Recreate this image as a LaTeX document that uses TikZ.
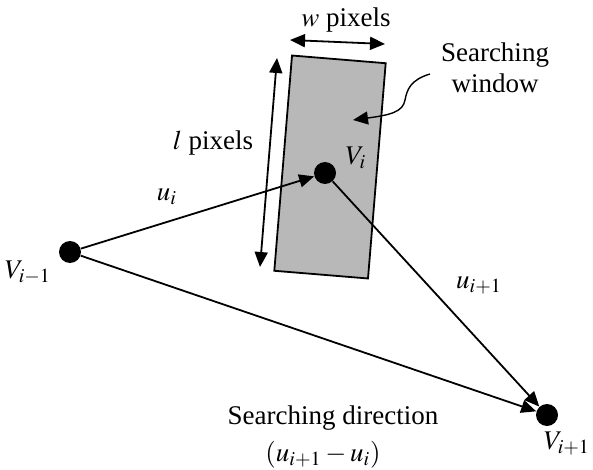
\documentclass[tikz,border=0pt]{standalone}
\usepackage{mathptmx}
\usepackage{fontspec}
\setmainfont{Liberation Serif}
\usetikzlibrary{arrows.meta}

\begin{document}
\begin{tikzpicture}[x=0.5pt,y=-0.5pt,
    dot/.style={circle,fill=black,inner sep=0pt,minimum size=11pt},
    conn/.style={line width=0.9pt,-{Triangle[length=7.5pt,width=6.5pt]}},
    dimarrow/.style={line width=0.9pt,{Triangle[length=7.5pt,width=6.5pt]}-{Triangle[length=7.5pt,width=6.5pt]}},
    lbl/.style={font=\fontsize{13.5}{15.5}\selectfont,inner sep=1pt}]
  \useasboundingbox (0,0) rectangle (593,470);
  % Searching window
  \node[draw,line width=0.9pt,fill=black!28,minimum width=47pt,minimum height=108pt,
        rotate=-4.7] (win) at (330,167) {};
  % Vertices
  \node[dot] (vprev) at (70,252) {};
  \node[dot] (vcur) at (325,173) {};
  \node[dot] (vnext) at (547,415) {};
  % Vectors
  \draw[conn] (vprev) -- (vcur);
  \draw[conn] (vcur) -- (vnext);
  \draw[conn] (vprev) -- (vnext);
  % Window size
  \coordinate (ltop) at (277,58);
  \coordinate (lbot) at (260,267);
  \coordinate (wleft) at (290,40);
  \coordinate (wright) at (385,44);
  \draw[dimarrow] (ltop) -- (lbot);
  \draw[dimarrow] (wleft) -- (wright);
  % Callout
  \coordinate (callstart) at (430,74);
  \coordinate (callend) at (353,120);
  \draw[conn,line width=0.7pt] (callstart) .. controls (410,80) and (407,90) .. (405,100)
    .. controls (403,112) and (390,115) .. (callend);
  % Labels
  \node[lbl] (wlbl) at (346,20) {$w$ pixels};
  \node[lbl] (llbl) at (213,143) {$l$ pixels};
  \node[lbl,align=center] (winlbl) at (495,68) {Searching\\window};
  \node[lbl] (vcurlbl) at (356,158) {$V_i$};
  \node[lbl] (uilbl) at (167,197) {$u_i$};
  \node[lbl] (uinextlbl) at (479,285) {$u_{i+1}$};
  \node[lbl] (vprevlbl) at (28,273) {$V_{i-1}$};
  \node[lbl] (vnextlbl) at (567,444) {$V_{i+1}$};
  \node[lbl] (dirlbl) at (333,418) {Searching direction};
  \node[lbl] (dirmath) at (323,455) {$\left(u_{i+1}-u_i\right)$};
\end{tikzpicture}
\end{document}
